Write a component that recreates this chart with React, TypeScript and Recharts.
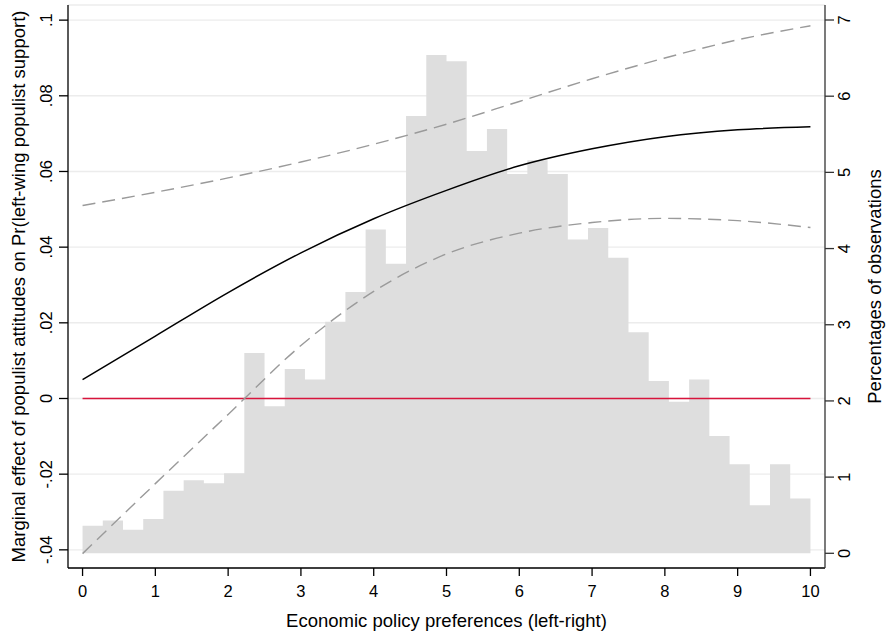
import React from 'react';
import {
  ComposedChart,
  Area,
  Line,
  XAxis,
  YAxis,
  CartesianGrid,
  ReferenceLine,
  Label,
} from 'recharts';

// ---------------- data ----------------
// x positions (economic policy preferences) where the marginal effect is evaluated
const lineX = [0, 1, 2, 3, 4, 5, 6, 7, 8, 9, 10];
// marginal effect of populist attitudes (left axis)
const marginalEffect = [0.005, 0.0165, 0.028, 0.0385, 0.0475, 0.055, 0.0615, 0.066, 0.0692, 0.071, 0.0718];
// 95% confidence bounds
const ciUpper = [0.051, 0.0545, 0.0583, 0.0625, 0.0672, 0.0725, 0.0785, 0.0845, 0.09, 0.0948, 0.0985];
const ciLower = [-0.041, -0.0225, -0.0042, 0.014, 0.0283, 0.0382, 0.0437, 0.0465, 0.0476, 0.047, 0.0452];

// histogram: percentage of observations, 36 equal bins from 0 to 10 (right axis)
const histRange = [0, 10];
const histPercent = [
  0.36, 0.43, 0.31, 0.45, 0.82, 0.96, 0.92, 1.05, 2.63, 1.93, 2.42, 2.28,
  3.04, 3.43, 4.25, 3.8, 5.74, 6.54, 6.46, 5.28, 5.57, 4.98, 5.16, 4.98,
  4.12, 4.27, 3.88, 2.9, 2.26, 1.99, 2.28, 1.54, 1.17, 0.63, 1.17, 0.72,
];

// axes
const xTicks = [0, 1, 2, 3, 4, 5, 6, 7, 8, 9, 10];
const leftTickValues = [-0.04, -0.02, 0, 0.02, 0.04, 0.06, 0.08, 0.1];
const leftTickLabels = ['-.04', '-.02', '0', '.02', '.04', '.06', '.08', '.1'];
const rightTickValues = [0, 1, 2, 3, 4, 5, 6, 7];
const rightTickLabels = ['0', '1', '2', '3', '4', '5', '6', '7'];
const xDomain = [-0.2, 10.2];
const leftDomain = [-0.0448, 0.104];
const rightDomain = [-0.193, 7.197];
const referenceEffect = 0;

const xTitle = 'Economic policy preferences (left-right)';
const leftTitle = 'Marginal effect of populist attitudes on Pr(left-wing populist support)';
const rightTitle = 'Percentages of observations';

// ---------------- build table ----------------
type Row = { x: number; hist?: number; me?: number; hi?: number; lo?: number };
function buildRows(): Row[] {
  const map = new Map<string, Row>();
  const get = (x: number) => {
    const key = x.toFixed(9);
    let r = map.get(key);
    if (!r) {
      r = { x };
      map.set(key, r);
    }
    return r;
  };
  const n = histPercent.length;
  const w = (histRange[1] - histRange[0]) / n;
  for (let k = 0; k <= n; k++) {
    const r = get(histRange[0] + k * w);
    r.hist = histPercent[Math.min(k, n - 1)];
  }
  lineX.forEach((x, i) => {
    const r = get(x);
    r.me = marginalEffect[i];
    r.hi = ciUpper[i];
    r.lo = ciLower[i];
  });
  return Array.from(map.values()).sort((a, b) => a.x - b.x);
}
const rows = buildRows();

// ---------------- layout / style ----------------
const W = 886;
const H = 637;
const TOP = 5;
const LEFT_W = 68;
const RIGHT_W = 61;
const XAXIS_H = 69;
const PLOT_CX = LEFT_W + (W - LEFT_W - RIGHT_W) / 2;
const PLOT_CY = TOP + (H - TOP - XAXIS_H) / 2;
const FONT = '"Liberation Sans", Arial, Helvetica, sans-serif';
const TICK_FS = 16.5;
const TITLE_FS = 18.5;
const CAP = 12;
const RIGHT_TITLE_X = 881;
const LEFT_TITLE_X = 25;
const X_TITLE_Y = 627;

const findLabel = (vals: number[], labels: string[], v: number) => {
  const i = vals.findIndex((t) => Math.abs(t - v) < 1e-9);
  return i >= 0 ? labels[i] : String(v);
};

const LeftTick = (props: any) => {
  const { x, y, payload } = props;
  return (
    <text x={x} y={y} transform={`rotate(-90 ${x} ${y})`} textAnchor="middle" fontSize={TICK_FS} fontFamily={FONT} fill="#000">
      {findLabel(leftTickValues, leftTickLabels, payload.value)}
    </text>
  );
};
const RightTick = (props: any) => {
  const { x, y, payload } = props;
  const bx = x + CAP;
  return (
    <text x={bx} y={y} transform={`rotate(-90 ${bx} ${y})`} textAnchor="middle" fontSize={TICK_FS} fontFamily={FONT} fill="#000">
      {findLabel(rightTickValues, rightTickLabels, payload.value)}
    </text>
  );
};
const BottomTick = (props: any) => {
  const { x, y, payload } = props;
  return (
    <text x={x} y={y + CAP} textAnchor="middle" fontSize={TICK_FS} fontFamily={FONT} fill="#000">
      {String(payload.value)}
    </text>
  );
};

const XTitle = () => (
  <text x={PLOT_CX} y={X_TITLE_Y} textAnchor="middle" fontSize={TITLE_FS} fontFamily={FONT} fill="#000">
    {xTitle}
  </text>
);
const LeftTitle = () => (
  <text
    x={LEFT_TITLE_X}
    y={PLOT_CY}
    transform={`rotate(-90 ${LEFT_TITLE_X} ${PLOT_CY})`}
    textAnchor="middle"
    fontSize={TITLE_FS}
    fontFamily={FONT}
    fill="#000"
  >
    {leftTitle}
  </text>
);
const RightTitle = () => (
  <text
    x={RIGHT_TITLE_X}
    y={PLOT_CY}
    transform={`rotate(-90 ${RIGHT_TITLE_X} ${PLOT_CY})`}
    textAnchor="middle"
    fontSize={TITLE_FS}
    fontFamily={FONT}
    fill="#000"
  >
    {rightTitle}
  </text>
);

export default function App() {
  return (
    <div style={{ position: 'absolute', left: 0, top: 0, width: W, height: H, background: '#fff' }}>
      <ComposedChart width={W} height={H} data={rows} margin={{ top: TOP, right: 0, bottom: 0, left: 0 }}>
        <CartesianGrid yAxisId="left" horizontal vertical={false} stroke="#ececec" strokeWidth={1.4} />
        <XAxis
          dataKey="x"
          type="number"
          domain={xDomain}
          allowDataOverflow
          ticks={xTicks}
          height={XAXIS_H}
          tickSize={8}
          tickMargin={9}
          axisLine={{ stroke: '#000', strokeWidth: 1.3 }}
          tickLine={{ stroke: '#000', strokeWidth: 1.3 }}
          tick={<BottomTick />}
          interval={0}
        >
          <Label content={<XTitle />} />
        </XAxis>
        <YAxis
          yAxisId="left"
          orientation="left"
          type="number"
          domain={leftDomain}
          allowDataOverflow
          ticks={leftTickValues}
          width={LEFT_W}
          tickSize={9}
          tickMargin={7}
          axisLine={{ stroke: '#000', strokeWidth: 1.3 }}
          tickLine={{ stroke: '#000', strokeWidth: 1.3 }}
          tick={<LeftTick />}
          interval={0}
        >
          <Label content={<LeftTitle />} />
        </YAxis>
        <YAxis
          yAxisId="right"
          orientation="right"
          type="number"
          domain={rightDomain}
          allowDataOverflow
          ticks={rightTickValues}
          width={RIGHT_W}
          tickSize={9}
          tickMargin={4}
          axisLine={{ stroke: '#333', strokeWidth: 1.3 }}
          tickLine={{ stroke: '#333', strokeWidth: 1.3 }}
          tick={<RightTick />}
          interval={0}
        >
          <Label content={<RightTitle />} />
        </YAxis>
        <Area
          yAxisId="right"
          dataKey="hist"
          type="stepAfter"
          stroke="none"
          fill="#dedede"
          fillOpacity={1}
          baseValue={0}
          connectNulls
          dot={false}
          activeDot={false}
          isAnimationActive={false}
        />
        <ReferenceLine
          yAxisId="left"
          segment={[
            { x: lineX[0], y: referenceEffect },
            { x: lineX[lineX.length - 1], y: referenceEffect },
          ]}
          stroke="#d8143c"
          strokeWidth={1.5}
        />
        <Line
          yAxisId="left"
          dataKey="hi"
          type="monotone"
          stroke="#9a9a9a"
          strokeWidth={1.4}
          strokeDasharray="13 7"
          connectNulls
          dot={false}
          activeDot={false}
          isAnimationActive={false}
        />
        <Line
          yAxisId="left"
          dataKey="lo"
          type="monotone"
          stroke="#9a9a9a"
          strokeWidth={1.4}
          strokeDasharray="13 7"
          connectNulls
          dot={false}
          activeDot={false}
          isAnimationActive={false}
        />
        <Line
          yAxisId="left"
          dataKey="me"
          type="monotone"
          stroke="#000"
          strokeWidth={1.5}
          connectNulls
          dot={false}
          activeDot={false}
          isAnimationActive={false}
        />
      </ComposedChart>
    </div>
  );
}
